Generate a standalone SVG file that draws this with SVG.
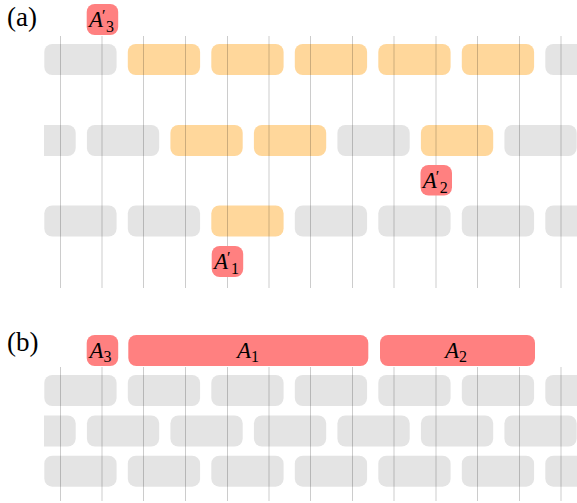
<svg xmlns="http://www.w3.org/2000/svg" width="577" height="503" viewBox="0 0 577 503">
<style>
.g{fill:#e4e4e4}
.o{fill:#ffd79b}
.r{fill:#ff8080}
.vl{stroke:#000;stroke-opacity:0.2;stroke-width:1}
.lab{font-family:"Liberation Serif",serif;font-size:27px;fill:#000}
.m{font-family:"Liberation Serif",serif;font-size:23px;font-style:italic;fill:#000}
.s{font-style:normal;font-size:16px}
.p{font-style:normal;font-size:16px}
</style>
<defs>
<clipPath id="clip"><rect x="44" y="0" width="533" height="503"/></clipPath>
<rect id="b" width="72.3" height="31" rx="8"/>
</defs>
<rect width="577" height="503" fill="#fff"/>
<text class="lab" x="7" y="26">(a)</text>
<text class="lab" x="7" y="351">(b)</text>
<g id="panel-a-blocks" clip-path="url(#clip)">
<g id="a-row1">
<use href="#b" class="g" x="44.3" y="44"/>
<use href="#b" class="o" x="127.8" y="44"/>
<use href="#b" class="o" x="211.3" y="44"/>
<use href="#b" class="o" x="294.8" y="44"/>
<use href="#b" class="o" x="378.3" y="44"/>
<use href="#b" class="o" x="461.8" y="44"/>
<use href="#b" class="g" x="545.3" y="44"/>
</g>
<g id="a-row2">
<use href="#b" class="g" x="3.4" y="125"/>
<use href="#b" class="g" x="86.9" y="125"/>
<use href="#b" class="o" x="170.4" y="125"/>
<use href="#b" class="o" x="253.9" y="125"/>
<use href="#b" class="g" x="337.4" y="125"/>
<use href="#b" class="o" x="420.9" y="125"/>
<use href="#b" class="g" x="504.4" y="125"/>
</g>
<g id="a-row3">
<use href="#b" class="g" x="44.3" y="205.5"/>
<use href="#b" class="g" x="127.8" y="205.5"/>
<use href="#b" class="o" x="211.3" y="205.5"/>
<use href="#b" class="g" x="294.8" y="205.5"/>
<use href="#b" class="g" x="378.3" y="205.5"/>
<use href="#b" class="g" x="461.8" y="205.5"/>
<use href="#b" class="g" x="545.3" y="205.5"/>
</g>
</g>
<g id="panel-b-blocks" clip-path="url(#clip)">
<g id="b-row1">
<use href="#b" class="g" x="44.3" y="375"/>
<use href="#b" class="g" x="127.8" y="375"/>
<use href="#b" class="g" x="211.3" y="375"/>
<use href="#b" class="g" x="294.8" y="375"/>
<use href="#b" class="g" x="378.3" y="375"/>
<use href="#b" class="g" x="461.8" y="375"/>
<use href="#b" class="g" x="545.3" y="375"/>
</g>
<g id="b-row2">
<use href="#b" class="g" x="3.4" y="415.5"/>
<use href="#b" class="g" x="86.9" y="415.5"/>
<use href="#b" class="g" x="170.4" y="415.5"/>
<use href="#b" class="g" x="253.9" y="415.5"/>
<use href="#b" class="g" x="337.4" y="415.5"/>
<use href="#b" class="g" x="420.9" y="415.5"/>
<use href="#b" class="g" x="504.4" y="415.5"/>
</g>
<g id="b-row3">
<use href="#b" class="g" x="44.3" y="455.7"/>
<use href="#b" class="g" x="127.8" y="455.7"/>
<use href="#b" class="g" x="211.3" y="455.7"/>
<use href="#b" class="g" x="294.8" y="455.7"/>
<use href="#b" class="g" x="378.3" y="455.7"/>
<use href="#b" class="g" x="461.8" y="455.7"/>
<use href="#b" class="g" x="545.3" y="455.7"/>
</g>
</g>
<g id="connectors">
<g id="grid-a">
<line class="vl" x1="60.5" y1="36" x2="60.5" y2="288"/>
<line class="vl" x1="102" y1="36" x2="102" y2="288"/>
<line class="vl" x1="143.5" y1="36" x2="143.5" y2="288"/>
<line class="vl" x1="185.5" y1="36" x2="185.5" y2="288"/>
<line class="vl" x1="227.5" y1="36" x2="227.5" y2="288"/>
<line class="vl" x1="269" y1="36" x2="269" y2="288"/>
<line class="vl" x1="310.5" y1="36" x2="310.5" y2="288"/>
<line class="vl" x1="352.5" y1="36" x2="352.5" y2="288"/>
<line class="vl" x1="394" y1="36" x2="394" y2="288"/>
<line class="vl" x1="436" y1="36" x2="436" y2="288"/>
<line class="vl" x1="477.5" y1="36" x2="477.5" y2="288"/>
<line class="vl" x1="519.5" y1="36" x2="519.5" y2="288"/>
<line class="vl" x1="561" y1="36" x2="561" y2="288"/>
</g>
<g id="grid-b">
<line class="vl" x1="60.5" y1="367" x2="60.5" y2="501"/>
<line class="vl" x1="102" y1="367" x2="102" y2="501"/>
<line class="vl" x1="143.5" y1="367" x2="143.5" y2="501"/>
<line class="vl" x1="185.5" y1="367" x2="185.5" y2="501"/>
<line class="vl" x1="227.5" y1="367" x2="227.5" y2="501"/>
<line class="vl" x1="269" y1="367" x2="269" y2="501"/>
<line class="vl" x1="310.5" y1="367" x2="310.5" y2="501"/>
<line class="vl" x1="352.5" y1="367" x2="352.5" y2="501"/>
<line class="vl" x1="394" y1="367" x2="394" y2="501"/>
<line class="vl" x1="436" y1="367" x2="436" y2="501"/>
<line class="vl" x1="477.5" y1="367" x2="477.5" y2="501"/>
<line class="vl" x1="519.5" y1="367" x2="519.5" y2="501"/>
<line class="vl" x1="561" y1="367" x2="561" y2="501"/>
</g>
</g>
<g id="A3p">
<rect class="r" x="86.7" y="4" width="31.5" height="31" rx="8"/>
<text class="m" x="89" y="27">A<tspan class="p" dx="-1" dy="-6">′</tspan><tspan class="s" dx="0.5" dy="11">3</tspan></text>
</g>
<g id="A2p">
<rect class="r" x="420.5" y="165" width="31.5" height="30.5" rx="8"/>
<text class="m" x="422.8" y="188">A<tspan class="p" dx="-1" dy="-6">′</tspan><tspan class="s" dx="0.5" dy="11">2</tspan></text>
</g>
<g id="A1p">
<rect class="r" x="211.7" y="246" width="31.5" height="31" rx="8"/>
<text class="m" x="214" y="269">A<tspan class="p" dx="-1" dy="-6">′</tspan><tspan class="s" dx="0.5" dy="11">1</tspan></text>
</g>
<g id="A3">
<rect class="r" x="86.7" y="335" width="31.5" height="31" rx="8"/>
<text class="m" x="89.5" y="358">A<tspan class="s" dx="0" dy="4">3</tspan></text>
</g>
<g id="A1">
<rect class="r" x="128.3" y="335" width="240" height="31" rx="8"/>
<text class="m" x="237" y="358">A<tspan class="s" dx="0" dy="4">1</tspan></text>
</g>
<g id="A2">
<rect class="r" x="380" y="335" width="155" height="31" rx="8"/>
<text class="m" x="445" y="358">A<tspan class="s" dx="0" dy="4">2</tspan></text>
</g>
</svg>
